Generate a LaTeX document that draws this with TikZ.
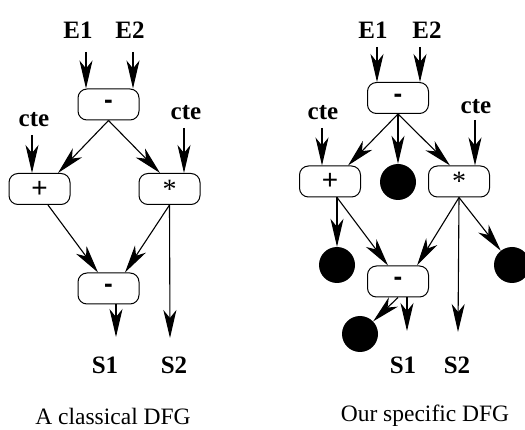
\documentclass[tikz,border=0pt]{standalone}
\usepackage{fontspec}
\setmainfont{Liberation Serif}
\newfontfamily\opsans{Liberation Sans}
\usetikzlibrary{arrows.meta,calc}
\tikzset{
  op/.style={draw, line width=1pt, rounded corners=9pt, minimum width=61pt, minimum height=31pt, inner sep=0pt},
  lbl/.style={inner sep=0pt, font=\fontsize{25}{25}\selectfont\bfseries},
  captxt/.style={inner sep=0pt, font=\fontsize{23.5}{23.5}\selectfont},
  blob/.style={circle, fill=black, minimum size=36pt, inner sep=0pt},
  arr/.style={-{Stealth[length=28pt,width=13pt,inset=8pt]}, line width=1.1pt}
}
\newcommand{\opplus}{{\opsans\fontsize{28}{28}\selectfont +}}
\newcommand{\opminus}{{\opsans\fontsize{26}{26}\selectfont\bfseries -}}
\newcommand{\optimes}{\raisebox{-0.3em}{\fontsize{28}{28}\selectfont *}}
\begin{document}
\begin{tikzpicture}[x=1pt,y=-1pt]
\useasboundingbox (0,0) rectangle (525,430);
% ---------- left: classical DFG ----------
\node[lbl] (E1a) at (78,30) {E1};
\node[lbl] (E2a) at (130,30) {E2};
\node[op] (m1) at (108.5,104.5) {\opminus};
\node[lbl] (ctea) at (34,120) {cte};
\node[lbl] (cteb) at (186,113) {cte};
\node[op] (p1) at (39.5,189) {\opplus};
\node[op] (t1) at (169.5,189) {\optimes};
\node[op] (m2) at (108.5,288.5) {\opminus};
\node[lbl] (S1a) at (105,365) {S1};
\node[lbl] (S2a) at (174,365) {S2};
\node[captxt] (capa) at (113,416) {A classical DFG};
\coordinate (e1s) at (86,52);
\coordinate (e2s) at (133,52);
\coordinate (c1s) at (32,135);
\coordinate (c2s) at (184,128);
\coordinate (s1a) at (116,337);
\coordinate (s2a) at (170,338);
\draw[arr] (e1s) -- (e1s |- m1.north);
\draw[arr] (e2s) -- (e2s |- m1.north);
\draw[arr] (c1s) -- (c1s |- p1.north);
\draw[arr] (c2s) -- (c2s |- t1.north);
\draw[arr] (m1.south) -- ([xshift=18.5pt]p1.north);
\draw[arr] (m1.south) -- ([xshift=-9.5pt]t1.north);
\draw[arr] ([xshift=8.5pt]p1.south) -- ([xshift=-10.5pt]m2.north);
\draw[arr] (t1.south) -- ([xshift=16.5pt]m2.north);
\draw[arr] (t1.south) -- (s2a);
\draw[arr] (s1a |- m2.south) -- (s1a);
% ---------- right: specific DFG ----------
\node[lbl] (E1b) at (373,30) {E1};
\node[lbl] (E2b) at (427,30) {E2};
\node[op] (m3) at (398,98) {\opminus};
\node[lbl] (ctec) at (323,113) {cte};
\node[lbl] (cted) at (476,107) {cte};
\node[op] (p2) at (330,181.5) {\opplus};
\node[blob] (k1) at (398,182) {};
\node[op] (t2) at (459,181.5) {\optimes};
\node[blob] (k2) at (337,265) {};
\node[op] (m4) at (398,281.5) {\opminus};
\node[blob] (k3) at (512,265) {};
\node[blob] (k4) at (360,334) {};
\node[lbl] (S1b) at (403,365) {S1};
\node[lbl] (S2b) at (457,365) {S2};
\node[captxt] (capb) at (425,416) {Our specific DFG};
\coordinate (e3s) at (377,47);
\coordinate (e4s) at (420,47);
\coordinate (c3s) at (322,128);
\coordinate (c4s) at (475,120);
\coordinate (s1b) at (407,331);
\coordinate (s2b) at (458,332);
\draw[arr] (e3s) -- (e3s |- m3.north);
\draw[arr] (e4s) -- (e4s |- m3.north);
\draw[arr] (c3s) -- (c3s |- p2.north);
\draw[arr] (c4s) -- (c4s |- t2.north);
\draw[arr] (m3.south) -- ([xshift=18pt]p2.north);
\draw[arr] (m3.south) -- (k1.north);
\draw[arr] (m3.south) -- ([xshift=-9pt]t2.north);
\draw[arr] ([xshift=7pt]p2.south) -- (k2.north);
\draw[arr] ([xshift=7pt]p2.south) -- ([xshift=-10pt]m4.north);
\draw[arr] (t2.south) -- ([xshift=19pt]m4.north);
\draw[arr] (t2.south) -- (s2b);
\draw[arr] (t2.south) -- (k3);
\draw[arr] (m4.south) -- (k4);
\draw[arr] (s1b |- m4.south) -- (s1b);
\end{tikzpicture}
\end{document}
